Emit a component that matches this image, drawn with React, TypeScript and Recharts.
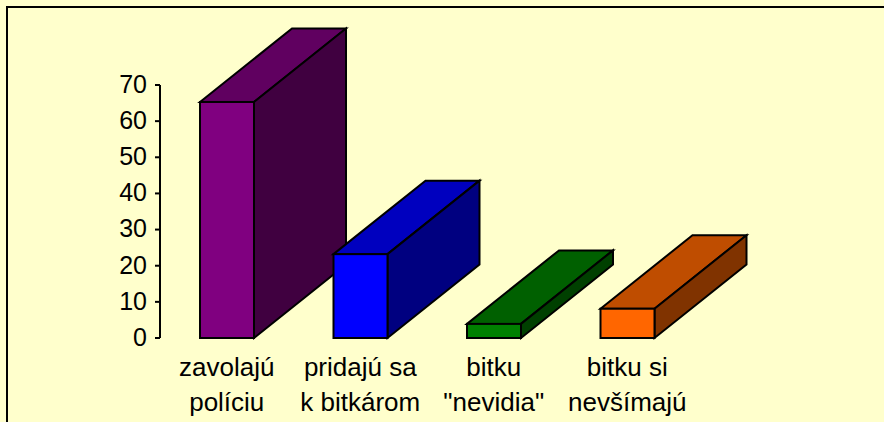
import { BarChart, Bar, XAxis, YAxis } from 'recharts';

const categories = ['zavolajú\npolíciu', 'pridajú sa\nk bitkárom', 'bitku\n"nevidia"', 'bitku si\nnevšímajú'];
const percents = [65.3, 23.2, 3.9, 8.1];
const yTicks = [0, 10, 20, 30, 40, 50, 60, 70];

const frontColors = ['#800080', '#0000FF', '#008000', '#FF6600'];
const topColors = ['#600060', '#0000BF', '#006000', '#BF4D00'];
const sideColors = ['#400040', '#000080', '#004000', '#803300'];

const chartData = categories.map((name, i) => ({ name, value: percents[i] }));

const FONT = '"Liberation Sans", Arial, sans-serif';
// posun zadnej hrany kvádra
const DEPTH_X = 92;
const DEPTH_Y = 73.5;

function Box3D({ x, y, width, height, index }: any) {
  const r = x + width;
  const b = y + height;
  const stroke = { stroke: '#000', strokeWidth: 2, strokeLinejoin: 'miter' as const };
  return (
    <g>
      <polygon
        points={`${x},${y} ${x + DEPTH_X},${y - DEPTH_Y} ${r + DEPTH_X},${y - DEPTH_Y} ${r},${y}`}
        fill={topColors[index]}
        {...stroke}
      />
      <polygon
        points={`${r},${y} ${r + DEPTH_X},${y - DEPTH_Y} ${r + DEPTH_X},${b - DEPTH_Y} ${r},${b}`}
        fill={sideColors[index]}
        {...stroke}
      />
      <rect x={x} y={y} width={width} height={height} fill={frontColors[index]} {...stroke} />
    </g>
  );
}

function CategoryTick({ x, y, payload }: any) {
  const lines = String(payload.value).split('\n');
  return (
    <text x={x} y={y} textAnchor="middle" fontFamily={FONT} fontSize={26} fill="#000">
      {lines.map((line, i) => (
        <tspan key={i} x={x} y={y + 38 + i * 35 - 8}>
          {line}
        </tspan>
      ))}
    </text>
  );
}

export default function App() {
  return (
    <div
      style={{
        position: 'fixed',
        left: 0,
        top: 0,
        width: 884,
        height: 422,
        background: '#FFFFCC',
        overflow: 'hidden',
      }}
    >
      <div
        style={{
          position: 'absolute',
          left: 6,
          top: 6,
          width: 900,
          height: 440,
          border: '2px solid #000',
          boxSizing: 'border-box',
        }}
      />
      <div style={{ position: 'absolute', left: 0, top: 0 }}>
        <BarChart
          width={884}
          height={422}
          data={chartData}
          margin={{ top: 85, right: 190, bottom: 0, left: 0 }}
        >
          <XAxis
            dataKey="name"
            axisLine={false}
            tickLine={false}
            height={84}
            interval={0}
            tick={<CategoryTick />}
          />
          <YAxis
            width={160}
            domain={[0, 70]}
            ticks={yTicks}
            interval={0}
            axisLine={{ stroke: '#000', strokeWidth: 2 }}
            tickLine={{ stroke: '#000', strokeWidth: 2 }}
            tickSize={5}
            tickMargin={8}
            tick={{ fontFamily: FONT, fontSize: 25, fill: '#000', dy: -1 }}
          />
          <Bar dataKey="value" barSize={54} isAnimationActive={false} shape={<Box3D />} />
        </BarChart>
      </div>
    </div>
  );
}
